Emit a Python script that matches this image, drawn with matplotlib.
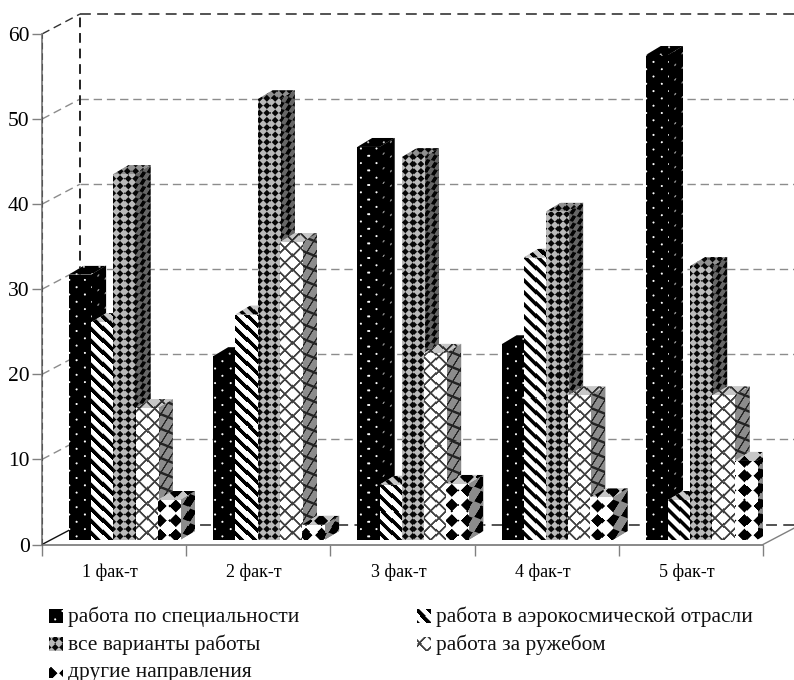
"""Faux-3D grouped bar chart with pattern fills (survey by year of study)."""
import matplotlib
matplotlib.use("Agg")
import matplotlib.pyplot as plt
import numpy as np
from matplotlib.patches import Polygon

plt.rcParams["font.family"] = ["Liberation Serif", "DejaVu Serif"]

categories = ["1 фак-т", "2 фак-т", "3 фак-т", "4 фак-т", "5 фак-т"]
series_names = [
    "работа по специальности",
    "работа в аэрокосмической отрасли",
    "все варианты работы",
    "работа за ружебом",
    "другие направления",
]
specialty = [31.2, 21.6, 46.2, 23.0, 57.0]
aerospace = [25.6, 26.5, 6.5, 33.2, 4.7]
all_work = [43.0, 51.8, 45.0, 38.6, 32.2]
abroad = [15.5, 35.0, 22.0, 17.0, 17.0]
other = [4.7, 1.8, 6.6, 5.0, 9.3]
y_ticks = [0, 10, 20, 30, 40, 50, 60]

W, H = 794, 680
LEFT, RIGHT, TOP, BOTTOM = 42, 763, 34, 544.5
PX_X = (RIGHT - LEFT) / len(categories)
PX_Y = (BOTTOM - TOP) / 60
DEPTH_X, DEPTH_Y = 38, 20
BAR_DX, BAR_DY = 15, 9
BAR_W = 22.2
GROUP_PAD = 27
BAR_BASE = 4.5 / PX_Y
TILE = 14.6


def soft(a):
    return np.clip(a, 0, 1)


# u is the absolute pixel column, v the height above the bar foot
def pat_dots(u, v):
    a, b = u % TILE, v % TILE
    d1 = np.hypot(a - 3.6, b - 3.6)
    d2 = np.hypot(a - 10.9, b - 10.9)
    return soft(1.5 - np.minimum(d1, d2))


def pat_stripes(u, v):
    s = (u + v) % 12
    return soft(np.minimum(s - 5, 12 - s) + 0.5)


def pat_grey(u, v):
    p = TILE / 2
    d = np.abs((u % p) - p / 2) + np.abs((v % p) - p / 2)
    return 0.03 + 0.7 * soft((d - 2.7) * 0.7)


def pat_cross(u, v):
    d = np.minimum(np.abs(((u + v) % TILE) - TILE / 2), np.abs(((u - v) % TILE) - TILE / 2))
    return 0.25 + 0.75 * soft(d - 0.8)


def pat_diamond(u, v):
    d = np.abs(((u - 160 + TILE / 2) % TILE) - TILE / 2) + np.abs(((v + 2.5) % TILE) - TILE / 2)
    return soft(d - 6.0)


patterns = [pat_dots, pat_stripes, pat_grey, pat_cross, pat_diamond]
series_values = [specialty, aerospace, all_work, abroad, other]

fig = plt.figure(figsize=(W / 100, H / 100), dpi=100)
ax = fig.add_axes([LEFT / W, 1 - BOTTOM / H, (RIGHT - LEFT) / W, (BOTTOM - TOP) / H])
ax.set_xlim(0, len(categories))
ax.set_ylim(0, 60)
ax.patch.set_alpha(0)


def paint(patch, x0, y0, w_px, h_px, func, shade=1.0, shear=0.0, v0=0.0, z=3, clip=True, u0=None):
    nx = max(int(round(w_px)), 1)
    ny = max(int(round(h_px)), 1)
    uu, vv = np.meshgrid(np.arange(nx) + 0.5, np.arange(ny) + 0.5)
    if u0 is None:
        u0 = LEFT + x0 * PX_X
    img = func(uu + u0, vv + v0 - shear * uu) * shade
    im = ax.imshow(img, extent=[x0, x0 + w_px / PX_X, y0, y0 + h_px / PX_Y], origin="lower",
                   cmap="gray", vmin=0, vmax=1, interpolation="nearest", aspect="auto",
                   zorder=z, clip_on=clip)
    if patch is not None:
        im.set_clip_path(patch)


# back wall: dashed gridlines, side wall diagonals
dx_back = DEPTH_X / PX_X
dy_back = DEPTH_Y / PX_Y
for t in y_ticks:
    col, lw = ("#444444", 1.3) if t in (0, 60) else ("#8c8c8c", 1.0)
    ax.plot([dx_back, 5 + dx_back], [t + dy_back, t + dy_back], color=col, lw=lw,
            ls=(0, (6, 3.5)), clip_on=False, zorder=1)
    if t > 0:
        ax.plot([0, dx_back], [t, t + dy_back], color="#333333" if t == 60 else "#8c8c8c",
                lw=1.0, ls=(0, (6, 3.5)), clip_on=False, zorder=1)
ax.plot([dx_back, dx_back], [dy_back, 60 + dy_back], color="#222222", lw=1.4,
        ls=(0, (5, 3)), clip_on=False, zorder=1)
ax.plot([0, dx_back], [0, dy_back], color="#111111", lw=1.0, clip_on=False, zorder=2)
ax.plot([5, 5 + dx_back * 0.82], [0, dy_back * 0.82], color="#808080", lw=1.0, clip_on=False, zorder=2)
ax.plot([0, 0], [0, 60], color="#555555", lw=0.8, ls=(0, (6, 3.5)), clip_on=False, zorder=2.5)

# bars, drawn left to right so that each one hides the side of the previous one
x_arr = np.arange(len(categories))
z = 3
for g in x_arr:
    for s, values in enumerate(series_values):
        val = values[g]
        func = patterns[s]
        x0 = g + (GROUP_PAD + s * BAR_W) / PX_X
        w = BAR_W / PX_X
        x1 = x0 + w
        top = BAR_BASE + val
        ddx = BAR_DX / PX_X
        ddy = BAR_DY / PX_Y
        h_px = val * PX_Y

        side = Polygon([(x1, BAR_BASE), (x1 + ddx, BAR_BASE + ddy), (x1 + ddx, top + ddy), (x1, top)],
                       closed=True, fc="#808080", ec="none", zorder=z, transform=ax.transData)
        ax.add_patch(side)
        paint(side, x1, BAR_BASE, BAR_DX, h_px + BAR_DY, func, shade=0.55,
              shear=BAR_DY / BAR_DX, z=z + 0.1)

        roof = Polygon([(x0, top), (x1, top), (x1 + ddx, top + ddy), (x0 + ddx, top + ddy)],
                       closed=True, fc="#c8c8c8", ec="none", zorder=z, transform=ax.transData)
        ax.add_patch(roof)
        paint(roof, x0, top, BAR_W + BAR_DX, BAR_DY, func, shade=0.78, v0=h_px, z=z + 0.1)

        rect = ax.bar(x0, val, BAR_W / PX_X, bottom=BAR_BASE, align="edge",
                      color="white", zorder=z + 0.2)[0]
        paint(rect, x0, BAR_BASE, BAR_W, h_px, func, z=z + 0.3)
        z += 1

# axes and ticks
for name in ("top", "right"):
    ax.spines[name].set_visible(False)
for name in ("left", "bottom"):
    ax.spines[name].set_color("#808080")
    ax.spines[name].set_linewidth(1.3)
    ax.spines[name].set_zorder(2)
ax.set_yticks(y_ticks)
ax.set_xticks(np.arange(len(categories) + 1))
ax.set_xticklabels([])
ax.set_xticks(x_arr + 0.5 - 4 / PX_X, labels=categories, minor=True)
ax.tick_params(axis="y", length=7, width=1.0, color="#808080", labelsize=15.5, pad=2)
ax.tick_params(axis="x", which="major", length=8, width=1.0, color="#808080")
ax.tick_params(axis="x", which="minor", length=0, labelsize=13, pad=14)

# legend, hand placed as in the source
legend_slots = [(49, 610, 68), (417, 610, 436), (49, 638, 68), (417, 638, 436), (49, 665, 68)]
for name, func, (sx, sy, tx) in zip(series_names, patterns, legend_slots):
    x_d = (sx - LEFT) / PX_X
    y_d = (BOTTOM - (sy + 13)) / PX_Y
    paint(None, x_d, y_d, 14, 13, func, z=20, clip=False, u0=158)
    fig.text(tx / W, 1 - (sy + 7) / H, name, fontsize=15.4, va="center", ha="left", color="#111111")

fig.savefig("out.png", dpi=100)
